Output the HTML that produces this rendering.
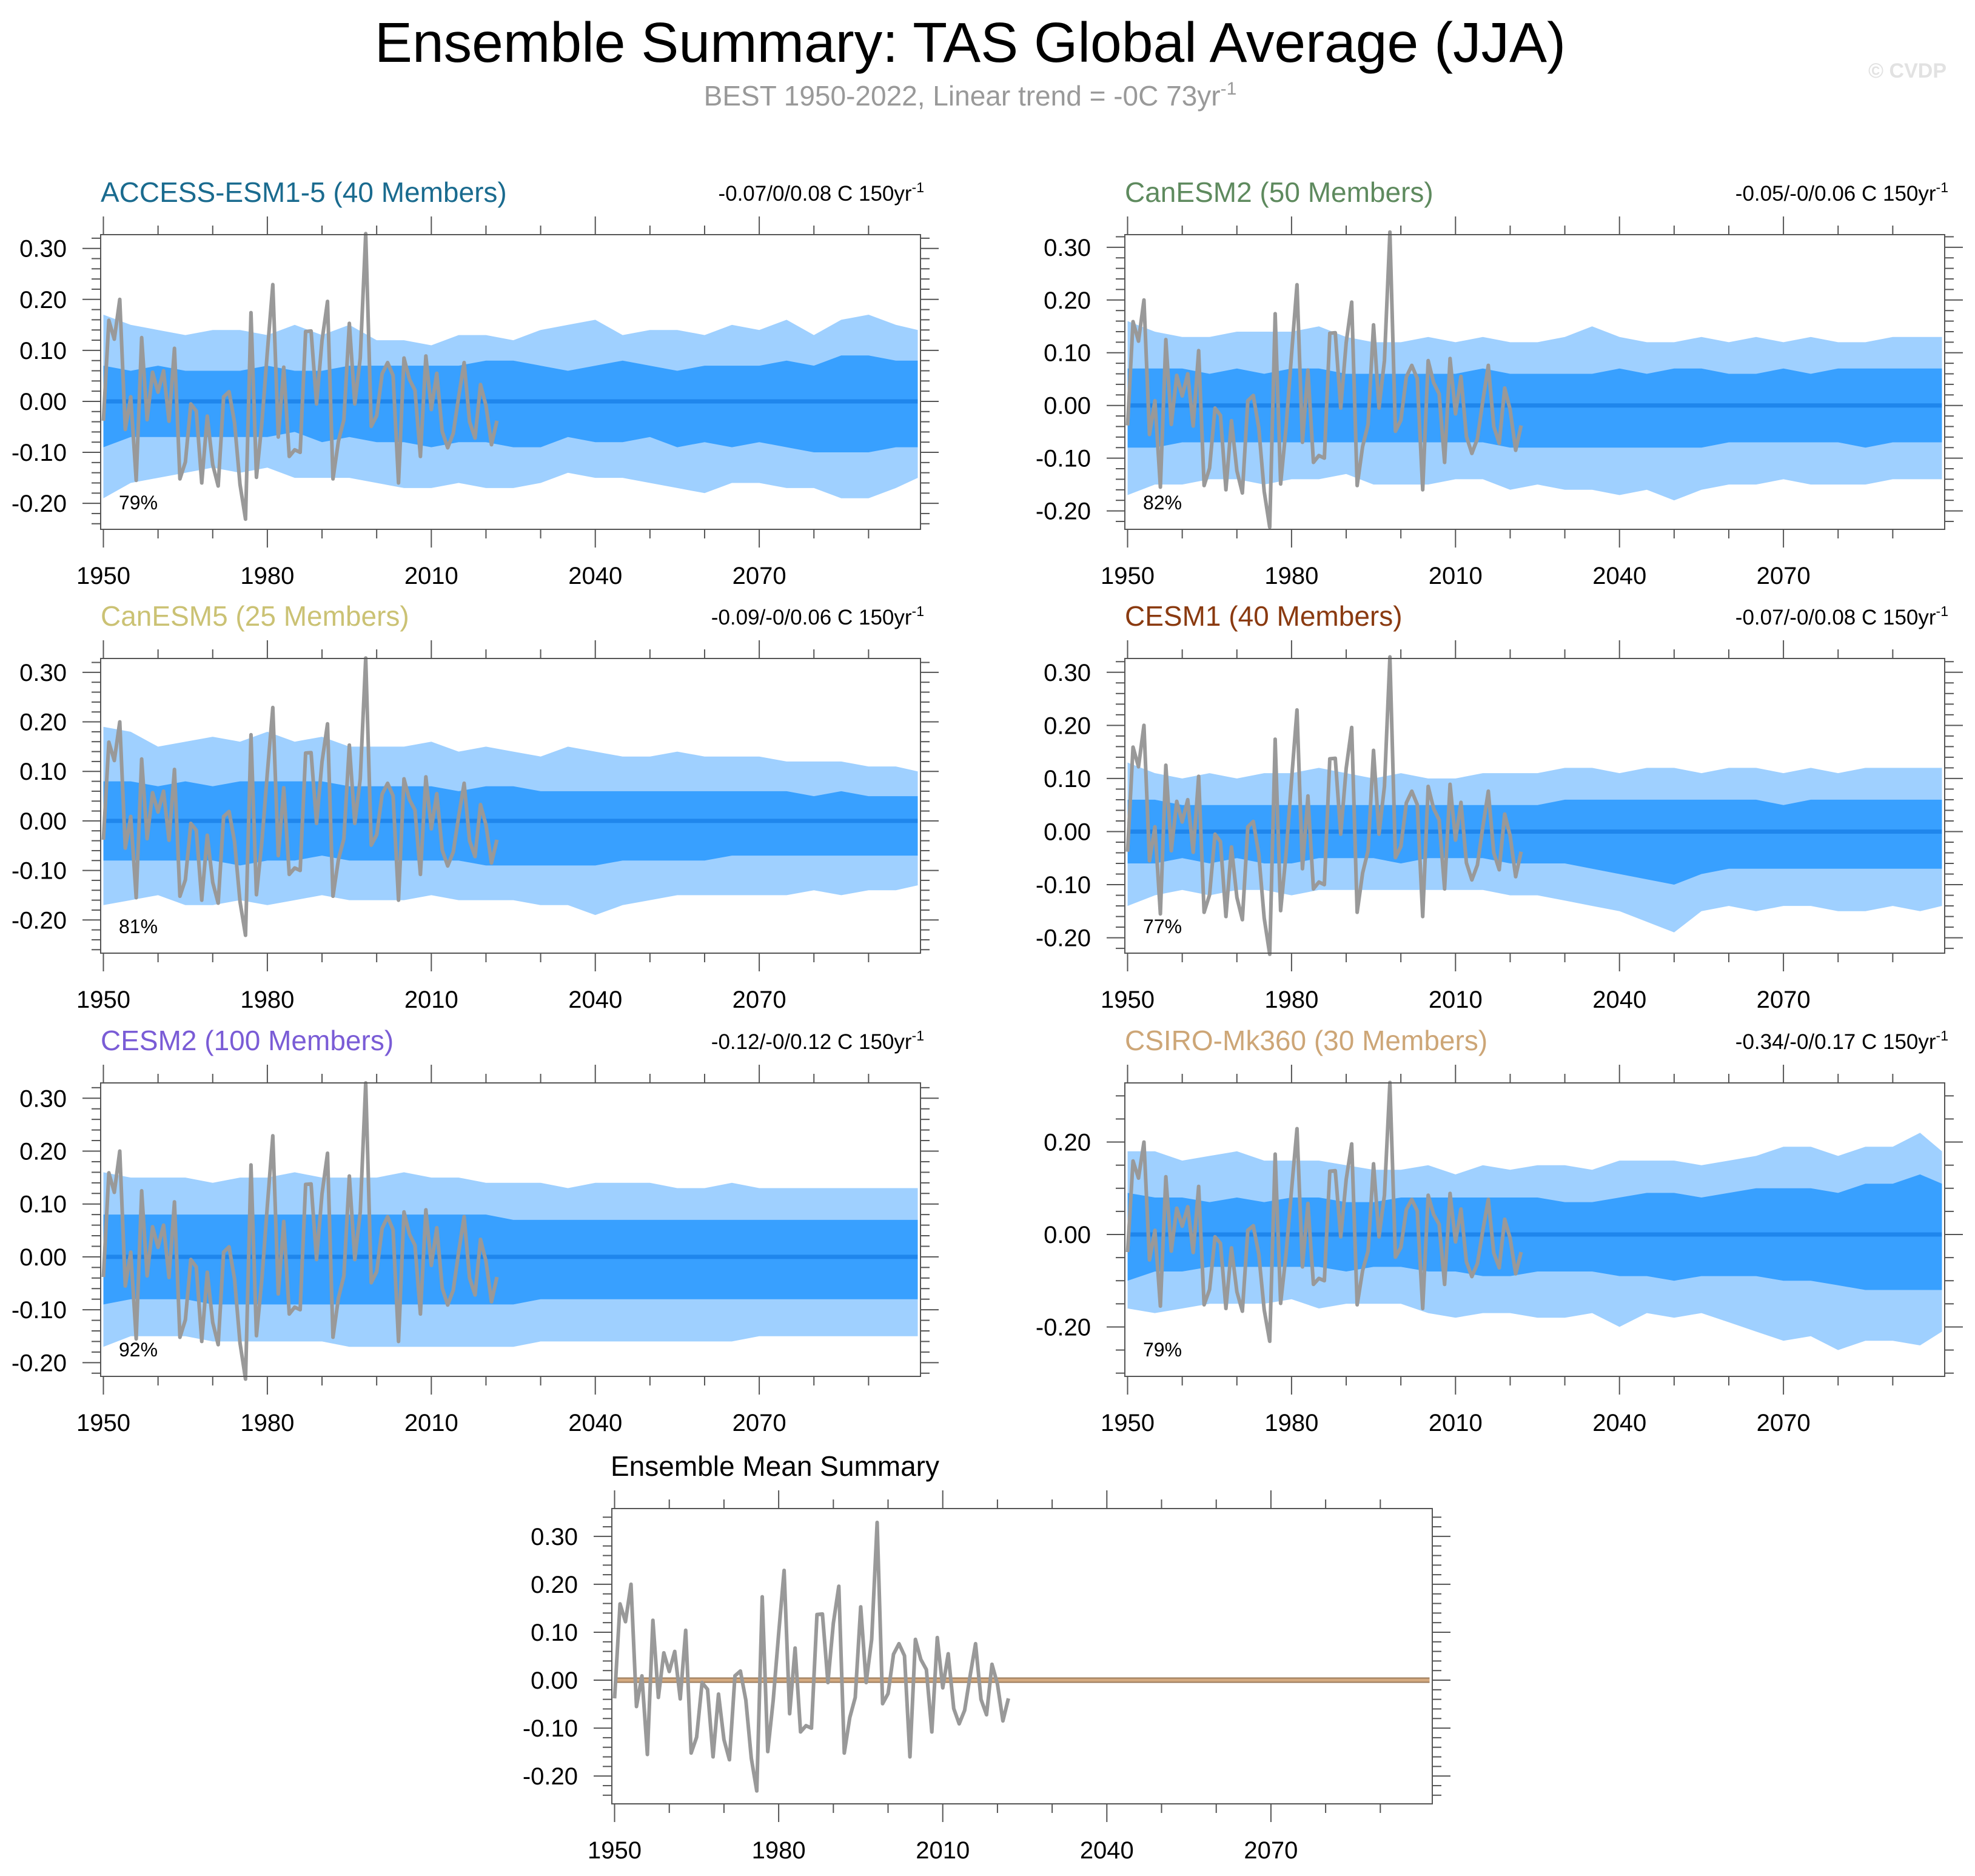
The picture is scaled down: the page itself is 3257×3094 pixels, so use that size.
<!DOCTYPE html>
<html><head><meta charset="utf-8">
<style>
html,body{margin:0;padding:0;background:#fff;}
svg{display:block;font-family:"Liberation Sans",sans-serif;}
</style></head>
<body>
<svg id="chart" width="3257" height="3094" viewBox="0 0 3257 3094" xmlns="http://www.w3.org/2000/svg">
<rect width="3257" height="3094" fill="#fff"/>
<text x="1600" y="102" font-size="93" text-anchor="middle" fill="#000">Ensemble Summary: TAS Global Average (JJA)</text>
<text x="1600" y="174" font-size="46" text-anchor="middle" fill="#999">BEST 1950-2022, Linear trend = -0C 73yr<tspan dy="-18" font-size="30">-1</tspan></text>
<text x="3210" y="128" font-size="34" font-weight="bold" text-anchor="end" fill="#e2e2e2">© CVDP</text>
<g id="panels"></g>
</svg>
<script>
// Observed series (BEST), 1950-2022
const obsYears = Array.from({length:73},(_,i)=>1950+i);
const obsValues = [-0.038,0.159,0.122,0.20,-0.055,0.009,-0.155,0.125,-0.036,0.057,0.018,0.06,-0.039,0.104,-0.152,-0.119,-0.005,-0.019,-0.160,-0.029,-0.124,-0.166,0.009,0.019,-0.042,-0.163,-0.231,0.174,-0.149,-0.042,0.097,0.229,-0.070,0.067,-0.108,-0.095,-0.1,0.137,0.138,-0.005,0.119,0.196,-0.152,-0.078,-0.036,0.153,-0.005,0.085,0.329,-0.049,-0.028,0.054,0.076,0.051,-0.160,0.085,0.043,0.022,-0.108,0.089,-0.016,0.055,-0.059,-0.091,-0.063,0.009,0.076,-0.040,-0.072,0.033,-0.008,-0.085,-0.038];
// Band categories (years)
const bandYears = [1950,1955,1960,1965,1970,1975,1980,1985,1990,1995,2000,2005,2010,2015,2020,2025,2030,2035,2040,2045,2050,2055,2060,2065,2070,2075,2080,2085,2090,2095,2099];
const xTickLabels = ["1950","1980","2010","2040","2070"];
const xTickYears = [1950,1980,2010,2040,2070];

// ACCESS-ESM1-5
const accessOU=[0.17,0.15,0.14,0.13,0.14,0.14,0.13,0.15,0.13,0.15,0.12,0.12,0.11,0.13,0.13,0.12,0.14,0.15,0.16,0.13,0.14,0.14,0.13,0.15,0.14,0.16,0.13,0.16,0.17,0.15,0.14];
const accessOL=[-0.19,-0.16,-0.15,-0.14,-0.13,-0.14,-0.13,-0.15,-0.15,-0.15,-0.16,-0.17,-0.17,-0.16,-0.17,-0.17,-0.16,-0.14,-0.15,-0.15,-0.16,-0.17,-0.18,-0.16,-0.16,-0.17,-0.17,-0.19,-0.19,-0.17,-0.15];
const accessIU=[0.07,0.06,0.07,0.06,0.06,0.06,0.07,0.06,0.06,0.07,0.07,0.07,0.07,0.07,0.08,0.08,0.07,0.06,0.07,0.08,0.07,0.06,0.07,0.07,0.07,0.08,0.07,0.09,0.09,0.08,0.08];
const accessIL=[-0.09,-0.07,-0.07,-0.07,-0.07,-0.07,-0.07,-0.06,-0.08,-0.07,-0.08,-0.08,-0.09,-0.08,-0.08,-0.09,-0.09,-0.07,-0.08,-0.08,-0.07,-0.09,-0.08,-0.09,-0.08,-0.09,-0.10,-0.10,-0.10,-0.09,-0.09];
// CanESM2
const can2OU=[0.16,0.14,0.13,0.13,0.14,0.14,0.14,0.15,0.13,0.12,0.12,0.13,0.12,0.13,0.12,0.12,0.13,0.15,0.13,0.12,0.12,0.13,0.12,0.13,0.12,0.13,0.12,0.12,0.13,0.13,0.13];
const can2OL=[-0.17,-0.15,-0.15,-0.14,-0.14,-0.15,-0.14,-0.14,-0.13,-0.15,-0.15,-0.15,-0.14,-0.14,-0.16,-0.15,-0.16,-0.16,-0.17,-0.16,-0.18,-0.16,-0.15,-0.15,-0.14,-0.15,-0.15,-0.15,-0.14,-0.14,-0.14];
const can2IU=[0.07,0.07,0.07,0.06,0.07,0.06,0.07,0.07,0.06,0.06,0.06,0.06,0.06,0.07,0.06,0.06,0.06,0.06,0.07,0.06,0.07,0.07,0.06,0.06,0.07,0.06,0.07,0.07,0.07,0.07,0.07];
const can2IL=[-0.08,-0.08,-0.07,-0.07,-0.07,-0.07,-0.07,-0.07,-0.07,-0.07,-0.07,-0.07,-0.07,-0.07,-0.08,-0.08,-0.08,-0.08,-0.08,-0.08,-0.08,-0.08,-0.07,-0.07,-0.07,-0.07,-0.07,-0.08,-0.07,-0.07,-0.07];
// CanESM5
const can5OU=[0.19,0.18,0.15,0.16,0.17,0.16,0.18,0.16,0.17,0.15,0.15,0.15,0.16,0.14,0.15,0.14,0.13,0.15,0.14,0.13,0.13,0.14,0.13,0.13,0.13,0.12,0.12,0.12,0.11,0.11,0.10];
const can5OL=[-0.17,-0.16,-0.15,-0.17,-0.17,-0.16,-0.17,-0.16,-0.15,-0.16,-0.16,-0.16,-0.15,-0.16,-0.16,-0.16,-0.17,-0.17,-0.19,-0.17,-0.16,-0.15,-0.15,-0.15,-0.15,-0.15,-0.14,-0.15,-0.14,-0.14,-0.13];
const can5IU=[0.08,0.08,0.07,0.08,0.07,0.08,0.08,0.08,0.08,0.07,0.07,0.07,0.07,0.06,0.07,0.07,0.06,0.06,0.06,0.06,0.06,0.06,0.06,0.06,0.06,0.06,0.05,0.06,0.05,0.05,0.05];
const can5IL=[-0.08,-0.08,-0.08,-0.08,-0.08,-0.09,-0.08,-0.08,-0.07,-0.08,-0.08,-0.08,-0.08,-0.08,-0.09,-0.09,-0.09,-0.09,-0.09,-0.08,-0.08,-0.08,-0.08,-0.07,-0.07,-0.07,-0.07,-0.07,-0.07,-0.07,-0.07];
// CESM1
const cesm1OU=[0.13,0.11,0.10,0.11,0.10,0.11,0.11,0.12,0.11,0.10,0.11,0.10,0.10,0.11,0.11,0.11,0.12,0.12,0.11,0.12,0.12,0.11,0.12,0.12,0.11,0.12,0.11,0.12,0.12,0.12,0.12];
const cesm1OL=[-0.14,-0.12,-0.11,-0.12,-0.11,-0.11,-0.12,-0.11,-0.11,-0.11,-0.11,-0.11,-0.11,-0.11,-0.12,-0.12,-0.13,-0.14,-0.15,-0.17,-0.19,-0.15,-0.14,-0.15,-0.14,-0.14,-0.15,-0.15,-0.14,-0.15,-0.14];
const cesm1IU=[0.06,0.06,0.05,0.05,0.05,0.05,0.05,0.05,0.05,0.05,0.05,0.05,0.05,0.05,0.05,0.05,0.06,0.06,0.06,0.06,0.06,0.06,0.06,0.06,0.05,0.06,0.06,0.06,0.06,0.06,0.06];
const cesm1IL=[-0.06,-0.06,-0.05,-0.06,-0.05,-0.06,-0.06,-0.05,-0.05,-0.05,-0.06,-0.05,-0.05,-0.05,-0.06,-0.06,-0.06,-0.07,-0.08,-0.09,-0.10,-0.08,-0.07,-0.07,-0.07,-0.07,-0.07,-0.07,-0.07,-0.07,-0.07];
// CESM2
const cesm2OU=[0.16,0.15,0.15,0.15,0.14,0.15,0.15,0.16,0.15,0.15,0.15,0.16,0.15,0.15,0.14,0.14,0.14,0.13,0.14,0.14,0.14,0.13,0.13,0.14,0.13,0.13,0.13,0.13,0.13,0.13,0.13];
const cesm2OL=[-0.17,-0.15,-0.15,-0.15,-0.16,-0.16,-0.16,-0.16,-0.16,-0.17,-0.17,-0.17,-0.17,-0.17,-0.17,-0.17,-0.16,-0.16,-0.16,-0.16,-0.16,-0.16,-0.16,-0.16,-0.15,-0.15,-0.15,-0.15,-0.15,-0.15,-0.15];
const cesm2IU=[0.08,0.08,0.08,0.08,0.08,0.08,0.08,0.08,0.08,0.08,0.08,0.08,0.08,0.08,0.08,0.07,0.07,0.07,0.07,0.07,0.07,0.07,0.07,0.07,0.07,0.07,0.07,0.07,0.07,0.07,0.07];
const cesm2IL=[-0.09,-0.08,-0.08,-0.08,-0.09,-0.09,-0.09,-0.09,-0.09,-0.09,-0.09,-0.09,-0.09,-0.09,-0.09,-0.09,-0.08,-0.08,-0.08,-0.08,-0.08,-0.08,-0.08,-0.08,-0.08,-0.08,-0.08,-0.08,-0.08,-0.08,-0.08];
// CSIRO-Mk360
const csiroOU=[0.18,0.18,0.16,0.17,0.18,0.16,0.16,0.16,0.15,0.14,0.14,0.15,0.13,0.15,0.14,0.15,0.15,0.14,0.16,0.16,0.16,0.15,0.16,0.17,0.19,0.19,0.17,0.19,0.19,0.22,0.18];
const csiroOL=[-0.16,-0.17,-0.16,-0.15,-0.15,-0.15,-0.14,-0.16,-0.15,-0.15,-0.15,-0.17,-0.18,-0.17,-0.17,-0.18,-0.18,-0.17,-0.20,-0.17,-0.18,-0.17,-0.19,-0.21,-0.23,-0.22,-0.25,-0.23,-0.23,-0.24,-0.21];
const csiroIU=[0.09,0.08,0.08,0.07,0.08,0.07,0.08,0.08,0.07,0.07,0.08,0.08,0.08,0.08,0.08,0.08,0.07,0.07,0.08,0.09,0.09,0.08,0.09,0.10,0.10,0.10,0.09,0.11,0.11,0.13,0.11];
const csiroIL=[-0.10,-0.08,-0.08,-0.07,-0.07,-0.07,-0.07,-0.07,-0.08,-0.07,-0.07,-0.08,-0.08,-0.09,-0.09,-0.08,-0.08,-0.08,-0.09,-0.09,-0.10,-0.09,-0.09,-0.09,-0.10,-0.10,-0.11,-0.12,-0.12,-0.12,-0.12];

const NS='http://www.w3.org/2000/svg';
const root=document.getElementById('panels');
function mk(tag,attrs,parent){const e=document.createElementNS(NS,tag);for(const k in attrs)e.setAttribute(k,attrs[k]);(parent||root).appendChild(e);return e;}

const panels=[
 {name:'access-esm1-5',title:'ACCESS-ESM1-5 (40 Members)',color:'#1a6b8f',trend:'-0.07/0/0.08 C 150yr',pct:'79%',x0:166,x1:1518,y0:387,y1:873,ymin:-0.251,ymax:0.327,ou:accessOU,ol:accessOL,iu:accessIU,il:accessIL,maj:[-0.2,-0.1,0,0.1,0.2,0.3],minStep:0.02},
 {name:'canesm2',title:'CanESM2 (50 Members)',color:'#5e8a5e',trend:'-0.05/-0/0.06 C 150yr',pct:'82%',x0:1855,x1:3207,y0:387,y1:873,ymin:-0.235,ymax:0.324,ou:can2OU,ol:can2OL,iu:can2IU,il:can2IL,maj:[-0.2,-0.1,0,0.1,0.2,0.3],minStep:0.02},
 {name:'canesm5',title:'CanESM5 (25 Members)',color:'#cbc274',trend:'-0.09/-0/0.06 C 150yr',pct:'81%',x0:166,x1:1518,y0:1086,y1:1572,ymin:-0.267,ymax:0.328,ou:can5OU,ol:can5OL,iu:can5IU,il:can5IL,maj:[-0.2,-0.1,0,0.1,0.2,0.3],minStep:0.02},
 {name:'cesm1',title:'CESM1 (40 Members)',color:'#8a3a10',trend:'-0.07/-0/0.08 C 150yr',pct:'77%',x0:1855,x1:3207,y0:1086,y1:1572,ymin:-0.229,ymax:0.326,ou:cesm1OU,ol:cesm1OL,iu:cesm1IU,il:cesm1IL,maj:[-0.2,-0.1,0,0.1,0.2,0.3],minStep:0.02},
 {name:'cesm2',title:'CESM2 (100 Members)',color:'#7a5cd6',trend:'-0.12/-0/0.12 C 150yr',pct:'92%',x0:166,x1:1518,y0:1786,y1:2270,ymin:-0.226,ymax:0.329,ou:cesm2OU,ol:cesm2OL,iu:cesm2IU,il:cesm2IL,maj:[-0.2,-0.1,0,0.1,0.2,0.3],minStep:0.02},
 {name:'csiro-mk360',title:'CSIRO-Mk360 (30 Members)',color:'#cda677',trend:'-0.34/-0/0.17 C 150yr',pct:'79%',x0:1855,x1:3207,y0:1786,y1:2270,ymin:-0.307,ymax:0.328,ou:csiroOU,ol:csiroOL,iu:csiroIU,il:csiroIL,maj:[-0.2,0,0.2],minStep:0.05},
 {name:'ensemble-mean-summary',title:'Ensemble Mean Summary',color:'#000',trend:null,pct:null,x0:1009,x1:2362,y0:2488,y1:2975,ymin:-0.258,ymax:0.358,maj:[-0.2,-0.1,0,0.1,0.2,0.3],minStep:0.02,mean:true}
];

panels.forEach(p=>{
 const g=mk('g',{});
 
 
 const xs=y=>p.x0+(y-1949.5)/150*(p.x1-p.x0);
 const ys=v=>p.y1-(v-p.ymin)/(p.ymax-p.ymin)*(p.y1-p.y0);
 const cp=mk('clipPath',{id:'cp-'+p.name},g);
 mk('rect',{x:p.x0,y:p.y0,width:p.x1-p.x0,height:p.y1-p.y0},cp);
 const plot=mk('g',{'clip-path':'url(#cp-'+p.name+')'},g);
 if(!p.mean){
  const band=(up,lo,fill,nm)=>{
   let d='';
   bandYears.forEach((yr,i)=>{d+=(i?'L':'M')+xs(yr).toFixed(1)+','+ys(up[i]).toFixed(1);});
   for(let i=bandYears.length-1;i>=0;i--){d+='L'+xs(bandYears[i]).toFixed(1)+','+ys(lo[i]).toFixed(1);}
   const e=mk('path',{d:d+'Z',fill:fill},plot);
   
   
  };
  band(p.ou,p.ol,'#9fd0ff','outer-spread-band');
  band(p.iu,p.il,'#38a0ff','inner-spread-band');
  const z=mk('line',{x1:xs(1950),x2:xs(2099),y1:ys(0),y2:ys(0),stroke:'#1f86ec','stroke-width':7},plot);
  
  
 } else {
  const z1=mk('line',{x1:xs(1950),x2:xs(2099),y1:ys(0),y2:ys(0),stroke:'#9a7a5a','stroke-width':9},plot);
  
  
  const z=mk('line',{x1:xs(1950),x2:xs(2099),y1:ys(0),y2:ys(0),stroke:'#d4aa80','stroke-width':5},plot);
  
  
 }
 const pts=obsYears.map((yr,i)=>xs(yr).toFixed(1)+','+ys(obsValues[i]).toFixed(1)).join(' ');
 const ol=mk('polyline',{points:pts,fill:'none',stroke:'#999','stroke-width':6,'stroke-linejoin':'round'},g);
 
 
 const fr=mk('rect',{x:p.x0,y:p.y0,width:p.x1-p.x0,height:p.y1-p.y0,fill:'none',stroke:'#555','stroke-width':2},g);
 
 
 for(let yr=1950;yr<2100;yr+=10){
  const major=(yr-1950)%30===0, L=major?30:15, x=xs(yr);
  mk('line',{x1:x,x2:x,y1:p.y0,y2:p.y0-L,stroke:'#555','stroke-width':2},g);
  mk('line',{x1:x,x2:x,y1:p.y1,y2:p.y1+L,stroke:'#555','stroke-width':2},g);
 }
 xTickYears.forEach((yr,i)=>{
  const t=mk('text',{x:xs(yr),y:p.y1+90,'font-size':40,'text-anchor':'middle',fill:'#000'},g);
  t.textContent=xTickLabels[i];
  
  
 });
 const n0=Math.ceil(p.ymin/p.minStep-1e-6), n1=Math.floor(p.ymax/p.minStep+1e-6);
 for(let n=n0;n<=n1;n++){
  const v=n*p.minStep, y=ys(v);
  const major=p.maj.some(m=>Math.abs(m-v)<1e-6), L=major?30:15;
  mk('line',{x1:p.x0,x2:p.x0-L,y1:y,y2:y,stroke:'#555','stroke-width':2},g);
  mk('line',{x1:p.x1,x2:p.x1+L,y1:y,y2:y,stroke:'#555','stroke-width':2},g);
 }
 p.maj.forEach(v=>{
  const t=mk('text',{x:p.x0-56,y:ys(v)+14,'font-size':40,'text-anchor':'end',fill:'#000'},g);
  t.textContent=v.toFixed(2);
  
  
 });
 const tt=mk('text',{x:p.mean?p.x0-2:p.x0,y:p.y0-54,'font-size':46,fill:p.color},g);
 tt.textContent=p.title;
 
 
 if(p.trend){
  const tr=mk('text',{x:p.x1+6,y:p.y0-56,'font-size':35,'text-anchor':'end',fill:'#000'},g);
  tr.textContent=p.trend;
  const sp=mk('tspan',{dy:-14,'font-size':23},tr);
  sp.textContent='-1';
  
  
  const pc=mk('text',{x:p.x0+30,y:p.y1-33,'font-size':32,fill:'#000'},g);
  pc.textContent=p.pct;
  
  
 }
});
</script>
</body></html>
